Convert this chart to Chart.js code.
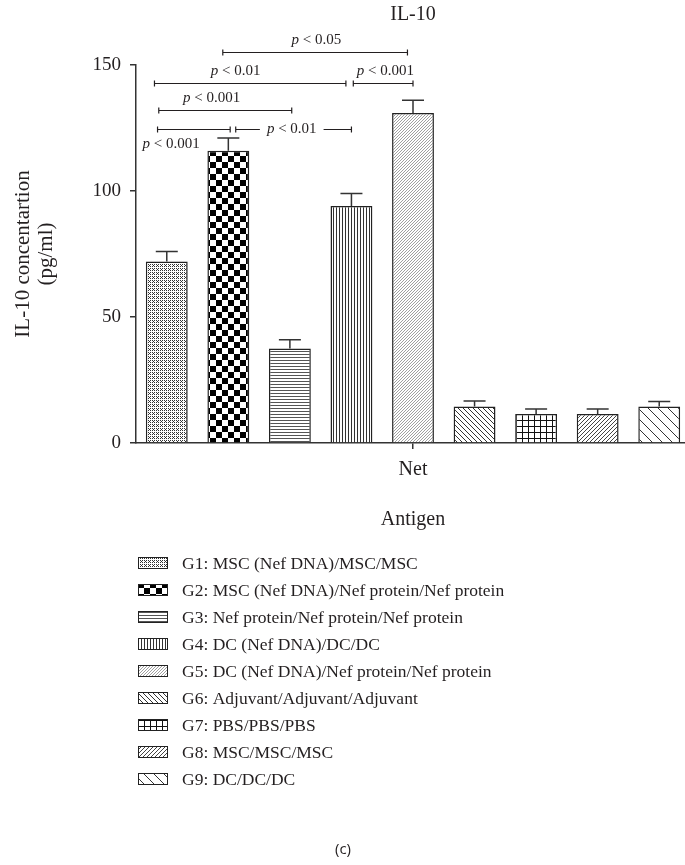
<!DOCTYPE html>
<html>
<head>
<meta charset="utf-8">
<title>IL-10</title>
<script src="https://cdn.jsdelivr.net/npm/chart.js@4.4.1/dist/chart.umd.min.js"></script>
<style>
  html, body { margin: 0; padding: 0; background: #fff; overflow: hidden; }
  #wrap { width: 700px; height: 865px; }
</style>
</head>
<body>
<div id="wrap"><canvas id="il10_chart" width="700" height="865"></canvas></div>
<script>
// Data
///////////////////////////
var categories = ["Net"];
var groups = [
  "G1: MSC (Nef DNA)/MSC/MSC",
  "G2: MSC (Nef DNA)/Nef protein/Nef protein",
  "G3: Nef protein/Nef protein/Nef protein",
  "G4: DC (Nef DNA)/DC/DC",
  "G5: DC (Nef DNA)/Nef protein/Nef protein",
  "G6: Adjuvant/Adjuvant/Adjuvant",
  "G7: PBS/PBS/PBS",
  "G8: MSC/MSC/MSC",
  "G9: DC/DC/DC"
];
var means = [72, 116, 37.5, 94, 131, 14.5, 11.5, 11.5, 14.5];
var errors = [4, 5, 3.5, 5, 5, 2.2, 2, 2, 2];
var yTicks = [0, 50, 100, 150];

// significance brackets: from / to group (fractional), level on y axis, label
var compFrom  = [0.91, -0.2, 3.03, -0.13, -0.15, 1.12];
var compTo    = [3.91, 2.91, 4.0, 2.03, 1.03, 3.0];
var compLevel = [155, 142.8, 142.8, 132, 124.7, 124.7];
var compLabel = ["0.05", "0.01", "0.001", "0.001", "0.001", "0.01"];
// where the label sits: above / below / inline, and its center (group units)
var compPlace = ["above", "above", "above", "above", "below", "inline"];
var compTextAt = [2.43, 1.12, 3.55, 0.73, 0.07, 2.03];

var serif = "'Liberation Serif', 'Times New Roman', serif";
var ink = '#231f20';

// hatch fills
function makePattern(kind) {
  var c = document.createElement('canvas');
  var g = c.getContext('2d');
  var s = 4, i;
  if (kind == 'checker') { s = 12; }
  if (kind == 'hlines' || kind == 'vlines' || kind == 'fine') { s = 3; }
  if (kind == 'back5') { s = 5; }
  if (kind == 'grid') { s = 6; }
  if (kind == 'back10') { s = 10; }
  c.width = s; c.height = s;
  g.fillStyle = '#fff';
  g.fillRect(0, 0, s, s);
  if (kind == 'dots') {
    g.fillStyle = '#333';
    [[0,0],[2,0],[0,2],[2,2],[1,1]].forEach(function(p){ g.fillRect(p[0], p[1], 1, 1); });
  } else if (kind == 'checker') {
    g.fillStyle = '#000';
    g.fillRect(0, 0, 6, 6);
    g.fillRect(6, 6, 6, 6);
  } else if (kind == 'hlines') {
    g.fillStyle = '#555';
    g.fillRect(0, 0, s, 1);
  } else if (kind == 'vlines') {
    g.fillStyle = '#333';
    g.fillRect(0, 0, 1, s);
  } else if (kind == 'fine') {
    g.fillStyle = '#a0a0a0';
    for (i = 0; i < s; i++) g.fillRect(i, s - 1 - i, 1, 1);
  } else if (kind == 'back5' || kind == 'back10') {
    g.fillStyle = '#333';
    for (i = 0; i < s; i++) g.fillRect(i, i, 1, 1);
  } else if (kind == 'grid') {
    g.fillStyle = '#111';
    g.fillRect(0, 0, s, 1);
    g.fillRect(0, 0, 1, s);
  } else if (kind == 'fwd4') {
    g.fillStyle = '#444';
    for (i = 0; i < s; i++) g.fillRect(i, s - 1 - i, 1, 1);
  }
  return g.createPattern(c, 'repeat');
}

var fills = ['dots', 'checker', 'hlines', 'vlines', 'fine', 'back5', 'grid', 'fwd4', 'back10'];

var datasets = groups.map(function(name, i) {
  return {
    label: name,
    data: [means[i]],
    backgroundColor: makePattern(fills[i]),
    borderColor: '#222',
    borderWidth: 1.5,
    barPercentage: 0.68,
    categoryPercentage: 1
  };
});

// error bars (upper only)
var errorBars = {
  id: 'errorBars',
  afterDatasetsDraw: function(chart) {
    var ctx = chart.ctx, y = chart.scales.y;
    ctx.save();
    ctx.strokeStyle = '#333';
    ctx.lineWidth = 1.5;
    chart.data.datasets.forEach(function(ds, i) {
      var bar = chart.getDatasetMeta(i).data[0];
      var top = y.getPixelForValue(means[i] + errors[i]);
      ctx.beginPath();
      ctx.moveTo(bar.x, bar.y);
      ctx.lineTo(bar.x, top);
      ctx.moveTo(bar.x - 11, top);
      ctx.lineTo(bar.x + 11, top);
      ctx.stroke();
    });
    ctx.restore();
  }
};

function pText(ctx, label, cx, cy) {
  ctx.font = 'italic 15px ' + serif;
  var w1 = ctx.measureText('p').width;
  ctx.font = '15px ' + serif;
  var rest = ' < ' + label;
  var w2 = ctx.measureText(rest).width;
  var x = cx - (w1 + w2) / 2;
  ctx.textAlign = 'left';
  ctx.textBaseline = 'middle';
  ctx.font = 'italic 15px ' + serif;
  ctx.fillText('p', x, cy);
  ctx.font = '15px ' + serif;
  ctx.fillText(rest, x + w1, cy);
  return [x, x + w1 + w2];
}

// title + significance brackets
var brackets = {
  id: 'brackets',
  afterDraw: function(chart) {
    var ctx = chart.ctx, y = chart.scales.y, area = chart.chartArea;
    var x0 = chart.getDatasetMeta(0).data[0].x;
    var slot = chart.getDatasetMeta(1).data[0].x - x0;
    ctx.save();
    ctx.fillStyle = ink;
    ctx.font = '20px ' + serif;
    ctx.textAlign = 'center';
    ctx.textBaseline = 'middle';
    ctx.fillText('IL-10', (area.left + area.right) / 2, 15);

    ctx.strokeStyle = ink;
    ctx.lineWidth = 1.2;
    compFrom.forEach(function(f, k) {
      var a = x0 + f * slot, b = x0 + compTo[k] * slot;
      var ly = Math.round(y.getPixelForValue(compLevel[k])) + 0.5;
      var tx = x0 + compTextAt[k] * slot;
      ctx.beginPath();
      ctx.moveTo(a, ly - 3); ctx.lineTo(a, ly + 3);
      ctx.moveTo(b, ly - 3); ctx.lineTo(b, ly + 3);
      if (compPlace[k] == 'inline') {
        var span = pText(ctx, compLabel[k], tx, ly);
        ctx.moveTo(a, ly); ctx.lineTo(span[0] - 7, ly);
        ctx.moveTo(span[1] + 7, ly); ctx.lineTo(b, ly);
      } else {
        ctx.moveTo(a, ly); ctx.lineTo(b, ly);
        pText(ctx, compLabel[k], tx, compPlace[k] == 'above' ? ly - 12 : ly + 15);
      }
      ctx.stroke();
    });
    ctx.restore();
  }
};

// legend list + panel letter
var legendList = {
  id: 'legendList',
  afterDraw: function(chart) {
    var ctx = chart.ctx;
    ctx.save();
    chart.data.datasets.forEach(function(ds, i) {
      var cy = 563 + i * 27;
      ctx.fillStyle = ds.backgroundColor;
      ctx.fillRect(138, cy - 5, 29, 11);
      ctx.strokeStyle = '#222';
      ctx.lineWidth = 1;
      ctx.strokeRect(138.5, cy - 5.5, 29, 11);
      ctx.fillStyle = ink;
      ctx.font = '17.5px ' + serif;
      ctx.textAlign = 'left';
      ctx.textBaseline = 'middle';
      ctx.fillText(ds.label, 182, cy + 1);
    });
    ctx.font = "15px 'Open Sans', 'DejaVu Sans', sans-serif";
    ctx.textAlign = 'center';
    ctx.fillText('(c)', 343, 850);
    ctx.restore();
  }
};

var ctx = document.getElementById('il10_chart').getContext('2d');
new Chart(ctx, {
  type: 'bar',
  data: { labels: categories, datasets: datasets },
  options: {
    responsive: false,
    animation: false,
    layout: { padding: { left: 0, right: 10, top: 65, bottom: 333 } },
    plugins: {
      legend: { display: false },
      tooltip: { enabled: false }
    },
    scales: {
      x: {
        afterFit: function(scale) { scale.height = 89; },
        ticks: { color: ink, font: { family: serif, size: 20 }, padding: 9 },
        grid: { display: true, offset: false, drawOnChartArea: false, drawTicks: true, tickLength: 6, color: '#333', lineWidth: 1.5 },
        border: { display: true, color: '#333', width: 1.5 },
        title: { display: true, text: 'Antigen', color: ink, font: { family: serif, size: 20 }, padding: 0 }
      },
      y: {
        min: 0,
        max: 150,
        afterFit: function(scale) { scale.width = 136; },
        afterBuildTicks: function(scale) { scale.ticks = yTicks.map(function(v){ return { value: v }; }); },
        ticks: { color: ink, font: { family: serif, size: 19 }, padding: 9 },
        grid: { display: true, drawOnChartArea: false, drawTicks: true, tickLength: 6, color: '#333', lineWidth: 1.5 },
        border: { display: true, color: '#333', width: 1.5 },
        title: {
          display: true,
          text: ['IL-10 concentartion', '(pg/ml)'],
          color: ink,
          font: { family: serif, size: 21, lineHeight: 1.1 },
          padding: { top: 12, bottom: 0 }
        }
      }
    }
  },
  plugins: [errorBars, brackets, legendList]
});
</script>
</body>
</html>
